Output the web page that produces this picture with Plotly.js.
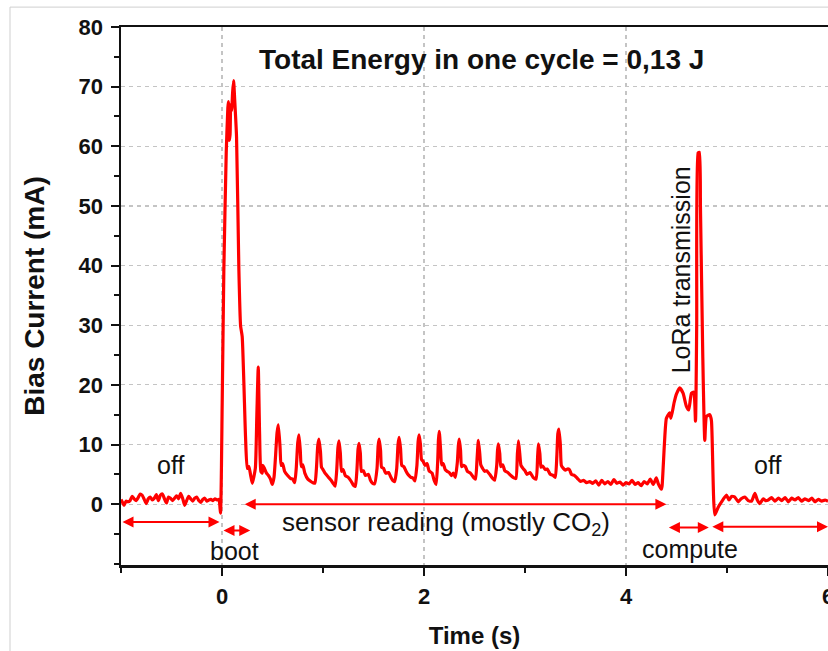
<!DOCTYPE html>
<html>
<head>
<meta charset="utf-8">
<script src="https://cdn.plot.ly/plotly-3.0.1.min.js"></script>
<style>html,body{margin:0;padding:0;background:#fff;}#chart{width:828px;height:651px;}</style>
</head>
<body>
<div id="chart"></div>
<script>
// Time (s)
const timeS = [
-1.0,-0.985,-0.97,-0.95,-0.93,-0.91,-0.89,-0.87,-0.85,-0.83,-0.81,-0.79,-0.77,-0.75,-0.73,-0.71,-0.69,-0.67,-0.65,-0.63,
-0.61,-0.59,-0.57,-0.55,-0.53,-0.51,-0.49,-0.47,-0.45,-0.43,-0.41,-0.39,-0.37,-0.35,-0.33,-0.31,-0.29,-0.27,-0.25,-0.23,
-0.21,-0.19,-0.17,-0.15,-0.13,-0.11,-0.09,-0.07,-0.05,-0.03,-0.015,0.002,0.018,0.042,0.058,0.064,0.072,0.08,0.086,0.095,
0.105,0.115,0.125,0.144,0.167,0.184,0.2,0.233,0.25,0.266,0.283,0.3,0.33,0.345,0.359,0.372,0.385,0.399,0.405,0.42,
0.44,0.46,0.48,0.498,0.515,0.53,0.545,0.558,
0.575,0.585,0.6,0.62,0.65,0.68,0.70,0.72,0.735,0.75,0.762,
0.775,0.785,0.80,0.82,0.85,0.88,0.90,0.92,0.935,0.948,0.960,
0.975,0.985,1.0,1.02,1.05,1.08,1.10,1.12,1.135,1.148,1.159,
1.172,1.183,1.20,1.22,1.25,1.28,1.30,1.32,1.335,1.347,1.357,
1.37,1.38,1.40,1.42,1.45,1.47,1.49,1.51,1.535,1.546,1.556,
1.57,1.58,1.60,1.62,1.65,1.67,1.69,1.71,1.73,1.743,1.754,
1.768,1.78,1.80,1.82,1.84,1.87,1.89,1.91,1.93,1.942,1.952,
1.965,1.975,1.99,2.01,2.03,2.05,2.08,2.10,2.12,2.135,2.143,2.151,
2.165,2.175,2.19,2.21,2.23,2.25,2.27,2.29,2.31,2.33,2.34,2.349,
2.362,2.372,2.39,2.41,2.43,2.46,2.49,2.51,2.525,2.538,
2.552,2.562,2.58,2.60,2.62,2.65,2.68,2.70,2.72,2.728,2.736,
2.75,2.76,2.78,2.80,2.83,2.86,2.89,2.91,2.925,2.935,
2.948,2.96,2.98,3.0,3.02,3.05,3.08,3.11,3.125,3.133,
3.147,3.158,3.175,3.20,3.22,3.25,3.28,3.30,3.315,3.325,3.335,
3.35,3.36,3.38,3.40,3.42,3.44,3.46,3.49,3.52,3.55,3.58,3.61,3.64,3.67,3.70,3.73,3.76,3.79,3.82,3.85,
3.88,3.91,3.94,3.97,4.0,4.03,4.06,4.09,4.12,4.15,4.18,4.21,4.24,4.27,4.30,4.32,4.35,4.357,4.38,4.40,
4.432,4.445,4.476,4.50,4.532,4.565,4.598,4.621,4.648,4.671,4.688,4.70,4.714,4.727,4.737,4.76,4.780,4.797,4.830,4.846,
4.879,4.913,4.946,4.995,5.02,5.045,5.077,5.111,5.14,5.177,5.21,5.243,5.276,5.3,5.325,5.359,5.38,5.409,5.44,5.474,
5.51,5.541,5.575,5.607,5.64,5.673,5.706,5.739,5.77,5.806,5.84,5.871,5.905,5.938,5.97,6.0
];
// Bias current (mA)
const currentMA = [
0.8,0.3,-0.2,0.5,0.4,0.6,1.3,0.9,0.6,1.1,1.7,1.5,0.8,0.1,0.9,1.2,0.7,1.0,1.6,0.6,
1.5,1.7,0.9,0.2,1.2,1.0,0.6,1.0,1.4,0.9,1.8,1.0,-0.2,0.6,1.3,0.9,0.5,1.0,1.2,0.6,
0.3,0.8,1.0,0.5,0.7,0.8,0.6,0.9,0.7,0.8,-1.5,17,39,59,66.5,67.5,61,62,67,66,
69,71,68,61.6,39.3,29.9,28.1,11.3,6.0,6.3,4.9,3.5,6,15,23,12,5.5,5.2,6.5,6,
5.2,4.8,4.2,3.3,4.5,8,12,13.3,
9.5,6.5,6.8,5.5,4.8,4.3,4.2,3.6,6,10.3,11.6,
9,6.3,6.6,5.2,4.2,3.8,3.6,3.5,6,9.8,10.9,
8.8,6.2,5.8,5.2,4.6,4.0,3.5,3.0,5.5,9.5,10.6,
8.5,5.5,5.8,4.8,4.5,3.8,3.2,3.0,5.5,9.2,10.2,
8.5,5.5,5.6,4.8,5.0,4.0,3.5,3.4,6,9.8,10.9,
9,6.2,6.0,5.2,5.3,4.6,4.0,3.8,6,10,11.2,
9.3,6.5,6.3,5.6,5.0,4.5,4.4,3.9,6.5,10.5,11.6,
10,7.5,7.2,6.5,6.8,5.6,5.2,4.0,3.3,7,10.8,12.2,
9,6.6,6.8,5.8,5.5,5.3,4.8,5.2,4.5,7,9.8,10.9,
9,6.3,6.5,6.3,5.5,5.2,4.5,4.2,7.5,10.7,
8.5,6.6,6.0,5.5,5.6,5.0,4.3,4.0,6.5,9,10.1,
8.5,6.3,6.6,5.6,5.3,4.8,4.4,4.3,8.5,10.6,
8.5,6.5,6.0,5.6,5.0,5.3,4.5,4.2,8,10.1,
8.5,6.2,6.4,5.8,5.9,5.0,4.8,4.5,8,11.8,12.6,
10,6.5,6.0,5.7,5.9,5.8,5.0,4.8,4.3,3.8,4.0,3.6,3.8,3.5,3.9,3.2,4.0,3.4,3.8,3.3,
4.1,3.5,3.7,3.2,3.6,3.4,4.0,3.3,3.6,3.1,3.8,3.4,4.2,3.3,4.4,3.4,2.5,3.0,10,14.4,
15.3,14.4,17,18.5,19.5,18.6,16.4,15.8,18.6,18.8,13.9,30,58.9,59,50,25,10.7,14.7,15,14,
-1.8,-0.5,0.4,1.5,0.7,1.3,1.2,0.4,0.9,1.2,0.6,0.5,1.8,0.7,0.1,0.9,0.6,0.7,1.1,0.5,
1.0,0.6,1.1,0.4,1.0,0.7,1.1,0.5,0.9,0.6,1.0,0.4,0.8,0.5,0.7,0.5
];

const xTickVals = [0, 2, 4, 6];
const yTickVals = [0, 10, 20, 30, 40, 50, 60, 70, 80];

const FONT = 'Liberation Sans, Arial, sans-serif';
const RED = '#ff0000';

function dblArrow(x0, x1, y) {
  return {x: x1, y: y, ax: x0, ay: y, xref: 'x', yref: 'y', axref: 'x', ayref: 'y',
    text: '', showarrow: true, arrowhead: 2, startarrowhead: 2, arrowside: 'end+start',
    arrowcolor: RED, arrowwidth: 2, arrowsize: 1.1, startarrowsize: 1.1, standoff: 0, startstandoff: 0};
}
function label(txt, x, y, extra) {
  return Object.assign({x: x, y: y, xref: 'x', yref: 'y', text: txt, showarrow: false,
    font: {family: FONT, size: 25, color: '#111'}, xanchor: 'center', yanchor: 'middle'}, extra || {});
}

const trace = {
  x: timeS, y: currentMA, type: 'scatter', mode: 'lines',
  line: {color: RED, width: 3.2, shape: 'spline', smoothing: 0.5}, hoverinfo: 'skip'
};

const layout = {
  width: 828, height: 651,
  margin: {l: 121, r: 0, t: 27, b: 86, pad: 0},
  paper_bgcolor: '#fff', plot_bgcolor: '#fff',
  showlegend: false,
  font: {family: FONT, color: '#111'},
  xaxis: {
    range: [-1, 6], tickvals: xTickVals, ticktext: xTickVals.map(String),
    showline: true, linecolor: '#111', linewidth: 2.5, mirror: true,
    ticks: 'outside', ticklen: 8, tickwidth: 2, tickcolor: '#111',
    ticklabelstandoff: 2, ticklabeloverflow: 'allow',
    tickfont: {family: FONT, size: 22, color: '#111', weight: 'bold'},
    showgrid: true, gridcolor: '#c4c4c4', gridwidth: 1.2, griddash: '4px,4px',
    minor: {dtick: 1, tick0: 0, ticks: 'outside', ticklen: 5, tickwidth: 2, tickcolor: '#111', showgrid: false},
    zeroline: false, automargin: false,
    title: {text: 'Time (s)', font: {family: FONT, size: 24, color: '#111', weight: 'bold'}, standoff: 20}
  },
  yaxis: {
    range: [-10.2, 80], tickvals: yTickVals, ticktext: yTickVals.map(String),
    showline: true, linecolor: '#111', linewidth: 2.5, mirror: true,
    ticks: 'outside', ticklen: 8, tickwidth: 2, tickcolor: '#111',
    ticklabelstandoff: 3,
    tickfont: {family: FONT, size: 22, color: '#111', weight: 'bold'},
    showgrid: true, gridcolor: '#c4c4c4', gridwidth: 1.2, griddash: '4px,4px',
    minor: {dtick: 5, tick0: 0, ticks: 'outside', ticklen: 5, tickwidth: 2, tickcolor: '#111', showgrid: false},
    zeroline: false, automargin: false,
    title: {text: 'Bias Current (mA)', font: {family: FONT, size: 28, color: '#111', weight: 'bold'}, standoff: 26}
  },
  shapes: [
    {type: 'line', xref: 'paper', yref: 'paper', x0: -0.157, x1: -0.157, y0: -0.2, y1: 1.037, line: {color: '#cfcfcf', width: 1}},
    {type: 'line', xref: 'paper', yref: 'paper', x0: -0.157, x1: 1.01, y0: 1.037, y1: 1.037, line: {color: '#cfcfcf', width: 1}}
  ],
  annotations: [
    label('<b>Total Energy in one cycle = 0,13 J</b>', 2.565, 74.5, {font: {family: FONT, size: 28, color: '#111'}}),
    label('off', -0.51, 6.5),
    label('off', 5.40, 6.5),
    label('sensor reading (mostly CO<sub>2</sub>)', 2.22, -3.2, {font: {family: FONT, size: 26, color: '#111'}}),
    label('boot', 0.125, -7.9),
    label('compute', 4.63, -7.5),
    label('LoRa transmission', 4.54, 39.3, {textangle: -90}),
    dblArrow(-1.0, -0.025, -3.0),
    dblArrow(0.0, 0.28, -4.4),
    dblArrow(0.21, 4.40, 0),
    dblArrow(4.41, 4.82, -3.9),
    dblArrow(4.84, 6.0, -3.8)
  ]
};

Plotly.newPlot('chart', [trace], layout, {staticPlot: true, displayModeBar: false});
</script>
</body>
</html>
